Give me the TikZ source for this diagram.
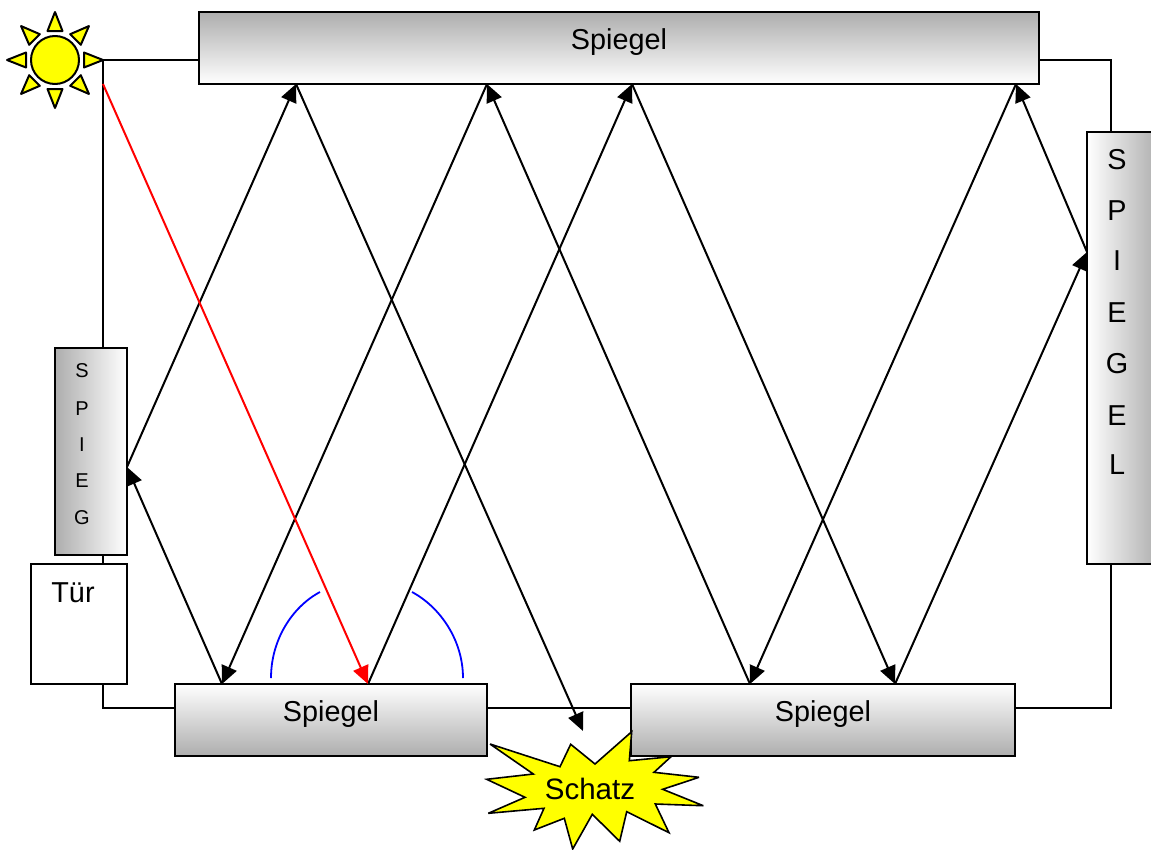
\documentclass[tikz,border=0pt]{standalone}
\usepackage{fontspec}
\setmainfont{Liberation Sans}
\usetikzlibrary{arrows.meta}
\definecolor{sunyellow}{RGB}{255,255,0}
\definecolor{linered}{RGB}{255,0,0}
\definecolor{lineblue}{RGB}{0,0,255}
\tikzset{
  x=1pt,y=-1pt,
  wire/.style={draw=black,line width=2pt},
  ray/.style={draw=black,line width=2pt,-{Triangle[length=18pt,width=16pt]}},
  arcline/.style={draw=lineblue,line width=1.8pt},
  mirror/.style={draw=black,line width=2pt,inner sep=0pt,outer sep=0pt},
  hmirror/.style={mirror,top color=black!32,bottom color=white},
  umirror/.style={mirror,top color=white,bottom color=black!32},
  big/.style={font=\fontsize{28.8}{30}\selectfont},
  small/.style={font=\fontsize{20}{22}\selectfont},
  sunfill/.style={draw=black,line width=2pt,fill=sunyellow,line join=round},
}
\begin{document}
\begin{tikzpicture}
\useasboundingbox (0,0) rectangle (1151,849);
% wires first
\coordinate (wTL) at (103,60);
\coordinate (wTR) at (1111,60);
\coordinate (wBL) at (103,708);
\coordinate (wBR) at (1111,708);
\draw[wire] (199,60) -- (wTL) -- (103,348);
\draw[wire] (103,555) -- (103,564);
\draw[wire] (103,684) -- (wBL) -- (175,708);
\draw[wire] (487,708) -- (631,708);
\draw[wire] (1015,708) -- (wBR) -- (1111,564);
\draw[wire] (1111,132) -- (wTR) -- (1039,60);
% mirrors
\node[hmirror,minimum width=840pt,minimum height=72pt] (top) at (619,48) {};
\node[big] (toplabel) at (619,42.5) {Spiegel};
\node[umirror,minimum width=312pt,minimum height=72pt] (bl) at (331,720) {};
\node[big] (bllabel) at (331,714.5) {Spiegel};
\node[umirror,minimum width=384pt,minimum height=72pt] (br) at (823,720) {};
\node[big] (brlabel) at (823,714.5) {Spiegel};
\node[mirror,left color=black!32,right color=white,minimum width=72pt,minimum height=207pt] (lm) at (91,451.5) {};
\node[mirror,left color=white,right color=black!32,minimum width=72pt,minimum height=432pt] (rm) at (1123,348) {};
\node[draw=black,line width=2pt,fill=white,minimum width=96pt,minimum height=120pt,inner sep=0pt] (door) at (79,624) {};
\node[big] (doorlabel) at (73,593) {Tür};
% vertical letters
\foreach \l/\y/\n in {S/371/a,P/409/b,I/445/c,E/481/d,G/518/e}
  \node[small] (ls\n) at (82,\y) {\l};
\foreach \l/\y/\n in {S/160/a,P/211/b,I/261/c,E/313/d,G/364/e,E/416/f,L/465/g}
  \node[big] (rs\n) at (1117,\y) {\l};
% reflection points
\coordinate (s0) at (103,84);
\coordinate (b2) at (368,684);
\coordinate (t3) at (632,84);
\coordinate (b4) at (895,684);
\coordinate (r) at (1087,252);
\coordinate (t4) at (1016,84);
\coordinate (b3) at (750,684);
\coordinate (t2) at (487,84);
\coordinate (b1) at (222,684);
\coordinate (l) at (127,467);
\coordinate (t1) at (296,84);
\coordinate (e) at (583,731);
\draw[ray] (b2) -- (t3);
\draw[ray] (t3) -- (b4);
\draw[ray] (b4) -- (r);
\draw[ray] (r) -- (t4);
\draw[ray] (t4) -- (b3);
\draw[ray] (b3) -- (t2);
\draw[ray] (t2) -- (b1);
\draw[ray] (b1) -- (l);
\draw[ray] (l) -- (t1);
\draw[ray] (t1) -- (e);
\draw[draw=linered,line width=2pt,-{Triangle[length=18pt,width=16pt,fill=linered]}] (s0) -- (b2);
% blue arcs
\draw[arcline] (271,678) .. controls (271,640) and (292,607) .. (320,592);
\draw[arcline] (463,678) .. controls (463,640) and (440,607) .. (412,592);
% sun
\begin{scope}[shift={(55,60)}]
\node[sunfill,circle,minimum size=48pt,inner sep=0pt] (sun) at (0,0) {};
\foreach \a in {0,45,...,315}
  \draw[sunfill,rotate=\a] (29,-7.5) -- (48,0) -- (29,7.5) -- cycle;
\end{scope}
% star
\draw[draw=black,line width=1.6pt,fill=sunyellow,line join=miter,miter limit=4]
 (490,744)--(560,766.7)--(570.7,744.3)--(595,764)--(631.7,731.7)--(629.3,760.7)--(671,756.7)--(654,772.3)--(699,777.3)--(662.7,789.3)--(703.3,805.7)--(655.3,804)--(669,832.7)--(626.7,811.7)--(619.7,841.3)--(592.3,814.3)--(572.7,849)--(564.3,818.3)--(534.3,830)--(544,808.3)--(488.3,813.3)--(525,797.3)--(486.7,779.3)--(533.3,774)--cycle;
\node[font=\fontsize{29.5}{31}\selectfont] (schatz) at (590,789) {Schatz};
\end{tikzpicture}
\end{document}
